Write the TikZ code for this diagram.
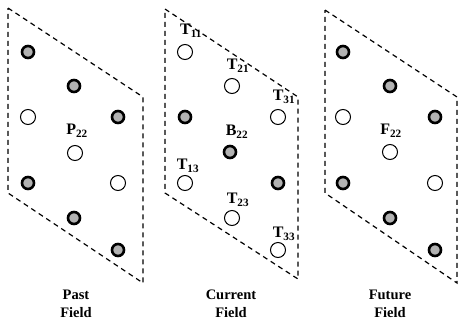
\documentclass[tikz,border=0pt]{standalone}
\usepackage{fontspec}
\setmainfont{Liberation Serif}
\begin{document}
\begin{tikzpicture}[x=1pt,y=-1pt,
  frame/.style={draw=black,line width=1.2pt,dash pattern=on 5pt off 4pt},
  openpx/.style={circle,draw=black,line width=1pt,minimum size=15pt,inner sep=0pt,fill=white},
  darkpx/.style={circle,draw=black,line width=2.6pt,minimum size=12pt,inner sep=0pt,fill=black!30},
  lab/.style={font=\bfseries\fontsize{16}{16}\selectfont,inner sep=0pt},
  captxt/.style={font=\bfseries\fontsize{14.5}{18}\selectfont,align=center,inner sep=0pt}]
\useasboundingbox (0,0) rectangle (458,322);
% frames
\draw[frame] (8,8) -- (143,97) -- (143,283) -- (8,193) -- cycle;
\draw[frame] (165,9) -- (298,97) -- (298,279) -- (165,193) -- cycle;
\draw[frame] (325,10) -- (457,97) -- (457,283) -- (325,193) -- cycle;
% past field
\node[darkpx] (p11) at (28,52) {};
\node[darkpx] (p21) at (74,86) {};
\node[openpx] (p12) at (28,117) {};
\node[darkpx] (p31) at (118,117) {};
\node[openpx] (p22) at (75,153) {};
\node[darkpx] (p13) at (28,183) {};
\node[openpx] (p32) at (118,183) {};
\node[darkpx] (p23) at (74,218) {};
\node[darkpx] (p33) at (118,250) {};
\node[lab] (lp) at (77,131) {P\textsubscript{22}};
% current field
\node[openpx] (t11) at (185,52) {};
\node[openpx] (t21) at (232,86) {};
\node[openpx] (t31) at (278,117) {};
\node[darkpx] (c12) at (185,117) {};
\node[darkpx] (b22) at (230,152) {};
\node[openpx] (t13) at (185,183) {};
\node[darkpx] (c32) at (278,183) {};
\node[openpx] (t23) at (232,218) {};
\node[openpx] (t33) at (278,250) {};
\node[lab] (lt11) at (191,31) {T\textsubscript{11}};
\node[lab] (lt21) at (238,66) {T\textsubscript{21}};
\node[lab] (lt31) at (284,97) {T\textsubscript{31}};
\node[lab] (lb22) at (237,132) {B\textsubscript{22}};
\node[lab] (lt13) at (188,166) {T\textsubscript{13}};
\node[lab] (lt23) at (238,200) {T\textsubscript{23}};
\node[lab] (lt33) at (284,234) {T\textsubscript{33}};
% future field
\node[darkpx] (f11) at (343,52) {};
\node[darkpx] (f21) at (390,86) {};
\node[openpx] (f12) at (343,117) {};
\node[darkpx] (f31) at (435,117) {};
\node[openpx] (f22) at (390,152) {};
\node[darkpx] (f13) at (343,183) {};
\node[openpx] (f32) at (435,183) {};
\node[darkpx] (f23) at (390,218) {};
\node[darkpx] (f33) at (435,250) {};
\node[lab] (lf) at (391,131) {F\textsubscript{22}};
% captions
\node[captxt] (cp) at (76,304) {Past\\Field};
\node[captxt] (cc) at (231,304) {Current\\Field};
\node[captxt] (cf) at (390,304) {Future\\Field};
\end{tikzpicture}
\end{document}
